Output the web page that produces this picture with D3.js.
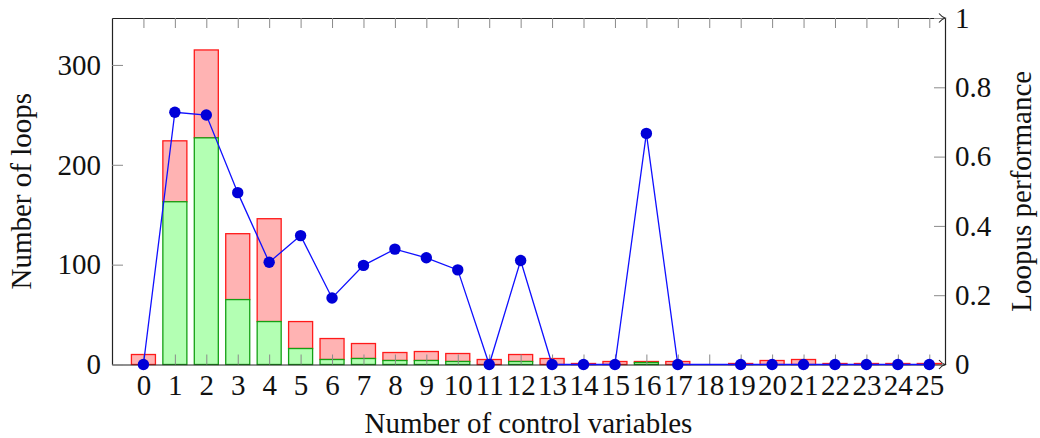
<!DOCTYPE html>
<html lang="en">
<head>
<meta charset="UTF-8">
<script src="https://d3js.org/d3.v7.min.js"></script>
<title>Loops by control variables</title>
<style>
    body { margin: 0; background: #fff; }
    .axis .domain { stroke: #222; stroke-width: 1.2px; }
    .axis line { stroke: #8a8a8a; stroke-width: 1px; }
</style>
</head>
<body>
<script>
    // number of control variables (x categories)
    var categories = d3.range(0, 26)
    // all loops per category
    var totalLoops = [10, 224, 315, 131, 146, 43, 26, 21, 12, 13, 11, 5, 10, 6, 1, 3, 3, 3, 0, 1, 4, 5, 1, 1, 1, 1]
    // loops handled (green part)
    var solvedLoops = [0, 163, 227, 65, 43, 16, 5, 6, 4, 4, 3, 0, 3, 0, 0, 0, 2, 0, 0, 0, 0, 0, 0, 0, 0, 0]
    // Loopus performance, null = no point
    var performance = [0, 0.728, 0.72, 0.496, 0.295, 0.372, 0.192, 0.286, 0.333, 0.308, 0.273, 0, 0.3, 0, 0, 0, 0.667, 0, null, 0, 0, 0, 0, 0, 0, 0]
    var leftTicks = [0, 100, 200, 300]
    var rightTicks = [0, 0.2, 0.4, 0.6, 0.8, 1]

    var width = 1040, height = 438
    var plot = { left: 112, right: 945, top: 18, bottom: 364.5 }
    var serif = "'Liberation Serif', 'Times New Roman', Times, 'DejaVu Serif', serif"

    var svg = d3.select("body").append("svg")
        .attr("width", width)
        .attr("height", height)
        .attr("font-family", serif)

    var x = d3.scaleLinear().domain([-1, 25.5]).range([plot.left, plot.right])
    var yLeft = d3.scaleLinear().domain([0, 347]).range([plot.bottom, plot.top])
    var yRight = d3.scaleLinear().domain([0, 1]).range([plot.bottom, plot.top])
    var barW = x(0.382) - x(-0.382)

    // bars: green part at the bottom, red part stacked on top
    var bars = svg.append("g")
    bars.selectAll("rect.total")
        .data(categories.filter(function (d) { return totalLoops[d] - solvedLoops[d] > 0 }))
        .enter().append("rect")
        .attr("class", "total")
        .attr("x", function (d) { return x(d) - barW / 2 })
        .attr("width", barW)
        .attr("y", function (d) { return yLeft(totalLoops[d]) })
        .attr("height", function (d) { return yLeft(solvedLoops[d]) - yLeft(totalLoops[d]) })
        .attr("fill", "#ffb3b3")
        .attr("stroke", "#ff1a1a")
        .attr("stroke-width", 1.3)
    bars.selectAll("rect.solved")
        .data(categories.filter(function (d) { return solvedLoops[d] > 0 }))
        .enter().append("rect")
        .attr("class", "solved")
        .attr("x", function (d) { return x(d) - barW / 2 })
        .attr("width", barW)
        .attr("y", function (d) { return yLeft(solvedLoops[d]) })
        .attr("height", function (d) { return yLeft(0) - yLeft(solvedLoops[d]) })
        .attr("fill", "#b3ffb3")
        .attr("stroke", "#14a014")
        .attr("stroke-width", 1.3)

    function styleAxis(g) {
        g.attr("font-family", serif).attr("font-size", 29)
        g.selectAll("text").attr("fill", "#111").attr("font-family", serif)
    }

    // axes
    svg.append("g").attr("class", "axis")
        .attr("transform", "translate(0," + plot.bottom + ")")
        .call(d3.axisBottom(x).tickValues(categories).tickSize(-10).tickSizeOuter(0).tickPadding(10))
        .call(styleAxis)
    svg.append("g").attr("class", "axis")
        .attr("transform", "translate(0," + plot.top + ")")
        .call(d3.axisTop(x).tickValues(categories).tickSize(-10).tickSizeOuter(0).tickFormat(""))
    svg.append("g").attr("class", "axis")
        .attr("transform", "translate(" + plot.left + ",0)")
        .call(d3.axisLeft(yLeft).tickValues(leftTicks).tickSize(-11).tickSizeOuter(0).tickPadding(11))
        .call(styleAxis)
    svg.append("g").attr("class", "axis")
        .attr("transform", "translate(" + plot.right + ",0)")
        .call(d3.axisRight(yRight).tickValues(rightTicks).tickSize(-11).tickSizeOuter(0).tickPadding(10)
            .tickFormat(function (d) { return String(d) }))
        .call(styleAxis)

    // arrow heads at the right end of the horizontal axis lines
    ;[plot.top, plot.bottom].forEach(function (yy) {
        svg.append("path")
            .attr("d", "M" + (plot.right - 6) + "," + (yy - 4.5) + "Q" + (plot.right - 3) + "," + (yy - 1) + " " + plot.right + "," + yy +
                "Q" + (plot.right - 3) + "," + (yy + 1) + " " + (plot.right - 6) + "," + (yy + 4.5))
            .attr("fill", "none")
            .attr("stroke", "#222")
            .attr("stroke-width", 1.1)
    })

    // performance line
    var perfPts = categories.filter(function (d) { return performance[d] !== null })
    var line = d3.line()
        .x(function (d) { return x(d) })
        .y(function (d) { return yRight(performance[d]) })
    svg.append("path")
        .datum(perfPts)
        .attr("d", line)
        .attr("fill", "none")
        .attr("stroke", "#1010ff")
        .attr("stroke-width", 1.3)
    svg.selectAll("circle")
        .data(perfPts)
        .enter().append("circle")
        .attr("cx", function (d) { return x(d) })
        .attr("cy", function (d) { return yRight(performance[d]) })
        .attr("r", 5.7)
        .attr("fill", "#0000d8")

    // axis titles
    svg.append("text")
        .attr("x", (plot.left + plot.right) / 2)
        .attr("y", 433)
        .attr("text-anchor", "middle")
        .attr("font-size", 29)
        .attr("fill", "#111")
        .text("Number of control variables")
    svg.append("text")
        .attr("transform", "translate(31," + (plot.top + plot.bottom) / 2 + ") rotate(-90)")
        .attr("text-anchor", "middle")
        .attr("font-size", 29)
        .attr("fill", "#111")
        .text("Number of loops")
    svg.append("text")
        .attr("transform", "translate(1031," + (plot.top + plot.bottom) / 2 + ") rotate(-90)")
        .attr("text-anchor", "middle")
        .attr("font-size", 29)
        .attr("fill", "#111")
        .text("Loopus performance")
</script>
</body>
</html>
